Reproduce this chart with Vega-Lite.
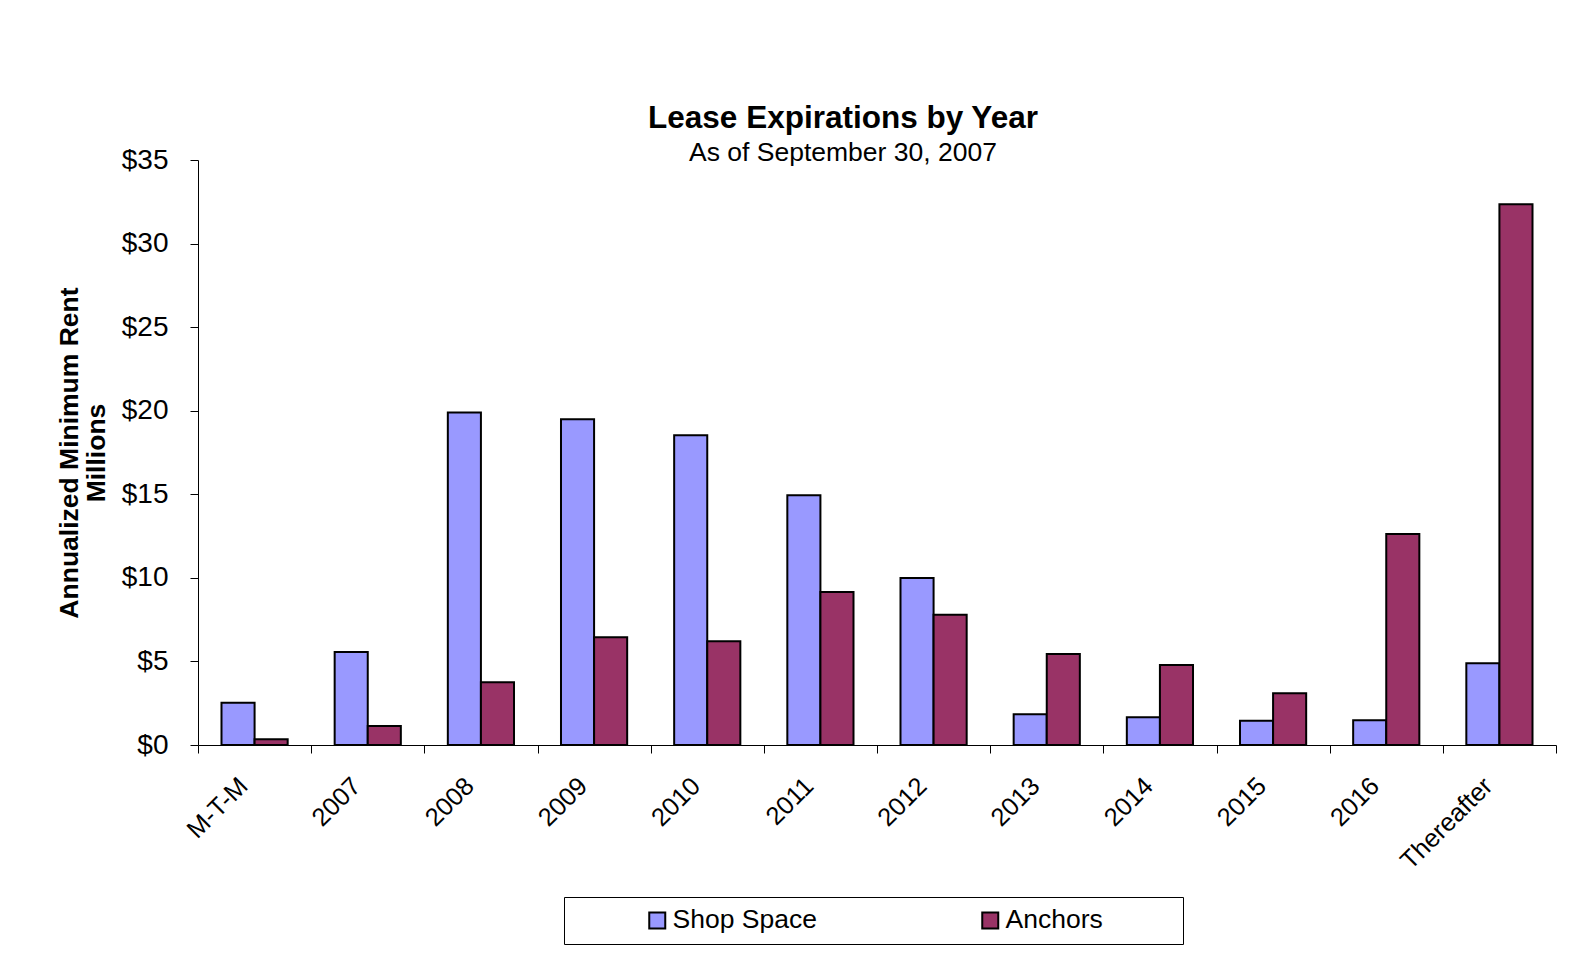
{
  "$schema": "https://vega.github.io/schema/vega-lite/v6.json",
  "autosize": "none",
  "width": 1358,
  "height": 585,
  "padding": {"left": 198, "top": 160, "right": 13, "bottom": 211},
  "background": "white",
  "title": {
    "text": "Lease Expirations by Year",
    "subtitle": "As of September 30, 2007",
    "anchor": "middle",
    "frame": "group",
    "dx": -34,
    "offset": -20,
    "font": "Liberation Sans",
    "fontSize": 31.5,
    "fontWeight": "bold",
    "color": "black",
    "subtitleFont": "Liberation Sans",
    "subtitleFontSize": 26.5,
    "subtitleColor": "black",
    "subtitlePadding": 5
  },
  "data": {
    "values": [
      {"period": "M-T-M", "type": "Shop Space", "rent": 2.53},
      {"period": "M-T-M", "type": "Anchors", "rent": 0.34},
      {"period": "2007", "type": "Shop Space", "rent": 5.56},
      {"period": "2007", "type": "Anchors", "rent": 1.14},
      {"period": "2008", "type": "Shop Space", "rent": 19.9},
      {"period": "2008", "type": "Anchors", "rent": 3.75},
      {"period": "2009", "type": "Shop Space", "rent": 19.49},
      {"period": "2009", "type": "Anchors", "rent": 6.44},
      {"period": "2010", "type": "Shop Space", "rent": 18.53},
      {"period": "2010", "type": "Anchors", "rent": 6.2},
      {"period": "2011", "type": "Shop Space", "rent": 14.94},
      {"period": "2011", "type": "Anchors", "rent": 9.15},
      {"period": "2012", "type": "Shop Space", "rent": 9.99},
      {"period": "2012", "type": "Anchors", "rent": 7.8},
      {"period": "2013", "type": "Shop Space", "rent": 1.84},
      {"period": "2013", "type": "Anchors", "rent": 5.44},
      {"period": "2014", "type": "Shop Space", "rent": 1.66},
      {"period": "2014", "type": "Anchors", "rent": 4.79},
      {"period": "2015", "type": "Shop Space", "rent": 1.45},
      {"period": "2015", "type": "Anchors", "rent": 3.09},
      {"period": "2016", "type": "Shop Space", "rent": 1.48},
      {"period": "2016", "type": "Anchors", "rent": 12.62},
      {"period": "Thereafter", "type": "Shop Space", "rent": 4.89},
      {"period": "Thereafter", "type": "Anchors", "rent": 32.35}
    ]
  },
  "mark": {"type": "bar", "stroke": "black", "strokeWidth": 2},
  "encoding": {
    "x": {
      "field": "period",
      "type": "nominal",
      "sort": null,
      "scale": {"paddingInner": 0, "paddingOuter": 0},
      "axis": {
        "title": null,
        "labelAngle": -45,
        "labelFont": "Liberation Sans",
        "labelFontSize": 25.5,
        "labelColor": "black",
        "labelPadding": 20,
        "labelOffset": -20,
        "tickBand": "extent",
        "tickSize": 8,
        "tickColor": "black",
        "domainColor": "black",
        "domainWidth": 1
      }
    },
    "xOffset": {
      "field": "type",
      "type": "nominal",
      "sort": ["Shop Space", "Anchors"],
      "scale": {"paddingInner": 0, "paddingOuter": 0.71}
    },
    "y": {
      "field": "rent",
      "type": "quantitative",
      "scale": {"domain": [0, 35], "nice": false},
      "axis": {
        "title": ["Annualized Minimum Rent", "Millions"],
        "titleFont": "Liberation Sans",
        "titleFontSize": 26.5,
        "titleFontWeight": "bold",
        "titleColor": "black",
        "titleLineHeight": 27,
        "titlePadding": 11,
        "values": [0, 5, 10, 15, 20, 25, 30, 35],
        "format": "$.0f",
        "labelFont": "Liberation Sans",
        "labelFontSize": 28,
        "labelColor": "black",
        "labelPadding": 22,
        "tickSize": 8,
        "tickColor": "black",
        "domainColor": "black",
        "grid": false
      }
    },
    "fill": {
      "field": "type",
      "type": "nominal",
      "sort": ["Shop Space", "Anchors"],
      "scale": {"domain": ["Shop Space", "Anchors"], "range": ["#9999FF", "#993366"]},
      "legend": {
        "title": " ",
        "titleOrient": "right",
        "titlePadding": 70,
        "titleFontSize": 10,
        "orient": "none",
        "legendX": 366,
        "legendY": 737,
        "direction": "horizontal",
        "columns": 2,
        "columnPadding": 90,
        "padding": 10,
        "symbolOffset": 70,
        "symbolType": "square",
        "symbolSize": 256,
        "symbolStrokeColor": "black",
        "symbolStrokeWidth": 2,
        "labelFont": "Liberation Sans",
        "labelFontSize": 26.5,
        "labelColor": "black",
        "labelOffset": 2,
        "strokeColor": "black",
        "fillColor": "white"
      }
    }
  },
  "config": {
    "view": {"stroke": null},
    "legend": {"strokeWidth": 1}
  }
}
